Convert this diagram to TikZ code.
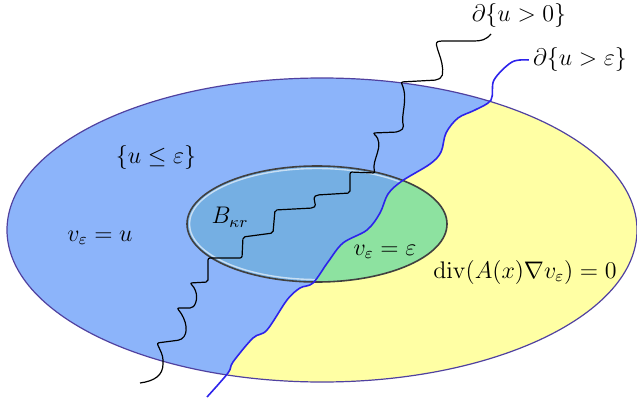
\documentclass[tikz,border=0pt,12pt]{standalone}
\usepackage{amsmath}
\usepackage{amssymb}
\usepackage{tikz}
\usetikzlibrary{calc}
\usepackage{xcolor}

\definecolor{regionblue}{RGB}{140,180,250}
\definecolor{ballblue}{RGB}{117,175,227}
\definecolor{ballgreen}{RGB}{141,226,160}
\definecolor{regionyellow}{RGB}{255,255,164}
\definecolor{rimpurple}{RGB}{80,65,160}
\definecolor{levelblue}{RGB}{45,35,235}

% the level set {u = eps}, from its label down to the bottom
\newcommand{\levelcurve}{plot[smooth, tension=0.55] coordinates {(bdeps.west) (512,62) (494,80) (491,100) (475,110) (458,118) (446,133) (441,152) (430,164) (402,181) (388,194) (380,213) (367,230) (343,243) (328,262) (313,283) (300,288) (287,300) (267,330) (253,338) (233,362) (228,373) (207,397)}}

\begin{document}
\begin{tikzpicture}[x=0.5pt, y=-0.5pt, every node/.style={inner sep=2pt}]
\useasboundingbox (0,0) rectangle (637,401);

% boundary labels
\node (bd0) at (519,16) {$\partial\{u>0\}$};
\node (bdeps) at (580,60) {$\partial\{u>\varepsilon\}$};
\coordinate (tail0) at (491,34);

% outer domain
\fill[regionyellow] (322,230) ellipse [x radius=315, y radius=152];
\begin{scope}
  \clip (322,230) ellipse [x radius=315, y radius=152];
  \fill[regionblue] \levelcurve -- (0,401) -- (0,0) -- (540,0) -- cycle;
\end{scope}

% ball B_{kappa r}
\fill[ballgreen] (317,224) ellipse [x radius=130, y radius=58];
\begin{scope}
  \clip (317,224) ellipse [x radius=130, y radius=58];
  \fill[ballblue] \levelcurve -- (0,401) -- (0,0) -- (540,0) -- cycle;
  \clip \levelcurve -- (0,401) -- (0,0) -- (540,0) -- cycle;
  \draw[white!60!ballblue, line width=0.7pt] (317,224) ellipse [x radius=127.5, y radius=55.5];
\end{scope}

\draw[rimpurple, line width=0.6pt] (322,230) ellipse [x radius=315, y radius=152];
\draw[black!75, line width=0.8pt] (317,224) ellipse [x radius=130, y radius=58];

% free boundary of {u>0}
\draw[line width=0.6pt, rounded corners=1pt] (tail0) .. controls (486,40) and (481,41) .. (472,41) -- (440,41)
  .. controls (432,43) and (445,60) .. (442,77) -- (437,80) -- (401,82)
  .. controls (409,100) and (400,115) .. (404,128) -- (398,132) -- (373,133)
  .. controls (386,145) and (371,160) .. (375,173) -- (350,172) -- (350,193) -- (317,195)
  .. controls (312,198) and (317,205) .. (313,208) -- (275,210) -- (273,233) -- (243,237)
  -- (242,258) -- (208,258) -- (208,282) -- (190,283)
  .. controls (199,292) and (197,303) .. (192,308) -- (177,308)
  .. controls (187,320) and (189,334) .. (180,340) -- (157,343)
  .. controls (160,350) and (163,355) .. (163,362) .. controls (163,375) and (155,381) .. (140,383);

% free boundary of {u>eps}
\draw[levelblue, line width=0.8pt] \levelcurve;

% texts
\node (lowset) at (156,157) {$\{u \le \varepsilon\}$};
\node (outside) at (100,238) {$v_\varepsilon = u$};
\node (ball) at (230,217) {$B_{\kappa r}$};
\node (inside) at (385,252) {$v_\varepsilon = \varepsilon$};
\node (eqn) at (525,272) {$\operatorname{div}(A(x)\nabla v_\varepsilon) = 0$};
\end{tikzpicture}
\end{document}
